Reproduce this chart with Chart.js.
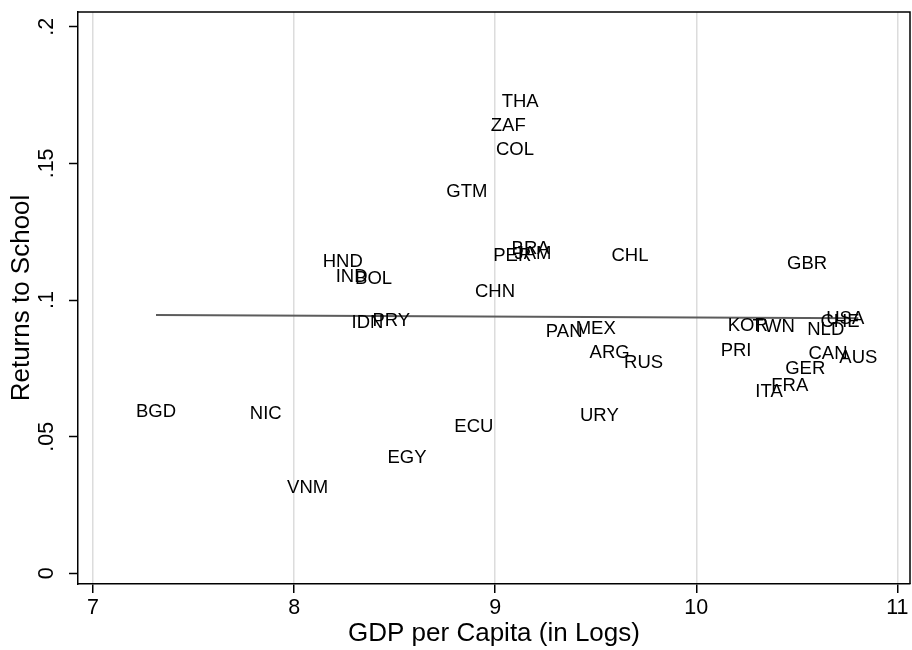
<!DOCTYPE html>
<html>
<head>
<title>Returns to School</title>
<script src="https://cdn.jsdelivr.net/npm/chart.js@4.4.0/dist/chart.umd.min.js"></script>
<style>
  body { margin: 0; background: #fff; }
</style>
</head>
<body>
<canvas id="retChart" width="912" height="650"></canvas>
<script>
// country codes, log GDP per capita, returns to school
const countries = ["THA","ZAF","COL","GTM","BRA","PER","JAM","CHL","HND","IND","BOL","CHN","GBR",
  "IDN","PRY","USA","CHE","KOR","TWN","NLD","PAN","MEX","PRI","CAN","AUS","ARG","RUS","GER",
  "FRA","ITA","BGD","NIC","URY","ECU","EGY","VNM"];
const gdpLog = [9.124, 9.065, 9.098, 8.859, 9.176, 9.085, 9.188, 9.670, 8.242, 8.286, 8.395, 8.999, 10.551,
  8.365, 8.483, 10.741, 10.715, 10.256, 10.385, 10.644, 9.343, 9.500, 10.198, 10.655, 10.806, 9.569, 9.738, 10.542,
  10.465, 10.362, 7.313, 7.859, 9.518, 8.894, 8.561, 8.067];
const returns = [0.1726, 0.1637, 0.1549, 0.1397, 0.1187, 0.1162, 0.1169, 0.1162, 0.1140, 0.1083, 0.1077, 0.1031, 0.1132,
  0.0915, 0.0924, 0.0931, 0.0919, 0.0906, 0.0900, 0.0891, 0.0882, 0.0893, 0.0814, 0.0802, 0.0789, 0.0805, 0.0771, 0.0748,
  0.0686, 0.0663, 0.0592, 0.0582, 0.0576, 0.0537, 0.0421, 0.0311];

// fitted line end points
const fitX = [7.313, 10.806];
const fitY = [0.0945, 0.0933];

const xTicks = [7, 8, 9, 10, 11];
const yTicks = [0, 0.05, 0.1, 0.15, 0.2];
const yTickLabels = ["0", ".05", ".1", ".15", ".2"];

const FONT = '"Liberation Sans", Arial, Helvetica, sans-serif';

var pts = [];
for (var i = 0; i < countries.length; i++) {
  pts.push({x: gdpLog[i], y: returns[i]});
}
var fitPts = fitX.map(function (v, i) { return {x: v, y: fitY[i]}; });

// draws the country codes on the (invisible) points, the rotated y labels and the box
const labelPlugin = {
  id: 'labelPlugin',
  afterDatasetsDraw: function (chart) {
    var ctx = chart.ctx;
    var meta = chart.getDatasetMeta(1);
    ctx.save();
    ctx.font = '18.5px ' + FONT;
    ctx.fillStyle = '#000';
    ctx.textAlign = 'center';
    ctx.textBaseline = 'middle';
    meta.data.forEach(function (el, i) {
      ctx.fillText(countries[i], el.x, el.y);
    });
    ctx.restore();
  },
  afterDraw: function (chart) {
    var ctx = chart.ctx;
    var a = chart.chartArea;
    var ys = chart.scales.y;
    ctx.save();
    ctx.strokeStyle = '#000';
    ctx.lineWidth = 1.5;
    ctx.beginPath();
    ctx.moveTo(a.left, a.top);
    ctx.lineTo(a.right, a.top);
    ctx.lineTo(a.right, a.bottom);
    ctx.stroke();

    ctx.font = '21.5px ' + FONT;
    ctx.fillStyle = '#000';
    ctx.textAlign = 'center';
    ctx.textBaseline = 'middle';
    yTicks.forEach(function (v, i) {
      var py = ys.getPixelForValue(v);
      ctx.save();
      ctx.translate(47, py);
      ctx.rotate(-Math.PI / 2);
      ctx.fillText(yTickLabels[i], 0, 0);
      ctx.restore();
    });
    ctx.restore();
  }
};

var ctxL = document.getElementById('retChart').getContext('2d');
var myChart = new Chart(ctxL, {
  type: 'scatter',
  data: {
    datasets: [{
      type: 'line',
      label: 'fit',
      data: fitPts,
      borderColor: '#5c5c5c',
      borderWidth: 2,
      pointRadius: 0,
      fill: false
    }, {
      label: 'countries',
      data: pts,
      pointRadius: 0,
      pointHoverRadius: 0
    }]
  },
  options: {
    responsive: false,
    devicePixelRatio: 1,
    animation: false,
    events: [],
    layout: { padding: { top: 12, right: 2, left: 0, bottom: 0 } },
    plugins: {
      legend: { display: false },
      tooltip: { enabled: false }
    },
    scales: {
      x: {
        type: 'linear',
        min: 6.925,
        max: 11.063,
        afterBuildTicks: function (scale) {
          scale.ticks = xTicks.map(function (v) { return {value: v}; });
        },
        afterFit: function (scale) { scale.height = 66; },
        grid: {
          color: '#dcdcdc',
          lineWidth: 1.5,
          tickColor: '#000',
          tickLength: 9,
          tickWidth: 1.5
        },
        border: { display: true, color: '#000', width: 1.5 },
        ticks: {
          color: '#000',
          padding: 2,
          maxRotation: 0,
          font: { family: FONT, size: 21.5 }
        },
        title: {
          display: true,
          text: 'GDP per Capita (in Logs)',
          color: '#000',
          padding: { top: 0, bottom: 1 },
          font: { family: FONT, size: 26 }
        }
      },
      y: {
        type: 'linear',
        min: -0.0039,
        max: 0.2054,
        afterBuildTicks: function (scale) {
          scale.ticks = yTicks.map(function (v) { return {value: v}; });
        },
        afterFit: function (scale) { scale.width = 78; },
        grid: {
          drawOnChartArea: false,
          tickColor: '#000',
          tickLength: 9,
          tickWidth: 1.5
        },
        border: { display: true, color: '#000', width: 1.5 },
        ticks: { display: false },
        title: {
          display: true,
          text: 'Returns to School',
          color: '#000',
          padding: { top: 6, bottom: 0 },
          font: { family: FONT, size: 26 }
        }
      }
    }
  },
  plugins: [labelPlugin]
});
</script>
</body>
</html>
